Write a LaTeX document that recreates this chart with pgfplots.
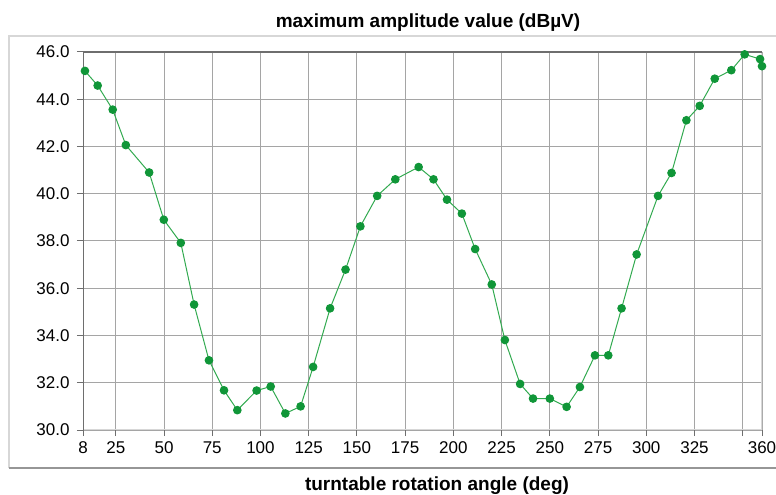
\documentclass[border=0pt]{standalone}
\usepackage{fontspec}
\setmainfont{Liberation Sans}
\usepackage{pgfplots}
\pgfplotsset{compat=1.18}
\definecolor{ptgreen}{RGB}{16,150,56}
\definecolor{lngreen}{RGB}{50,170,80}
\definecolor{gridgray}{RGB}{165,165,165}
\definecolor{axdark}{RGB}{110,110,110}
\definecolor{axlight}{RGB}{215,215,215}
\definecolor{panelgray}{RGB}{150,150,150}

\begin{document}
\begin{tikzpicture}
\begin{axis}[
    name=ax,
    scale only axis,
    width=679bp, height=378bp,
    xmin=8, xmax=360, ymin=30, ymax=46,
    xtick={8,25,50,75,100,125,150,175,200,225,250,275,300,325,350,360},
    xticklabels={8,25,50,75,100,125,150,175,200,225,250,275,300,325,,360},
    ytick={30,32,34,36,38,40,42,44,46},
    /pgf/number format/assume math mode=true,
    grid=major,
    grid style={gridgray, line width=1bp},
    axis line style={draw=none},
    tick align=outside,
    xtick pos=bottom, ytick pos=left,
    major tick length=6bp,
    tick style={axdark, line width=1bp},
    tick label style={font=\fontsize{17bp}{17bp}\selectfont},
    xticklabel style={yshift=-2bp},
    yticklabel style={xshift=-4bp,
        /pgf/number format/.cd, fixed, fixed zerofill, precision=1},
]
\addplot[lngreen, line width=1bp, mark=*, mark size=3.8bp,
    mark options={ptgreen, fill=ptgreen}] coordinates {
    (9,45.2) (15.6,44.58) (23.4,43.56) (30.2,42.06) (42.3,40.9)
    (49.9,38.9) (58.7,37.92) (65.6,35.31) (73.3,32.95) (81.1,31.68)
    (88.0,30.84) (98.0,31.67) (105.3,31.84) (112.9,30.70) (120.8,31.0)
    (127.3,32.67) (136.1,35.15) (144.1,36.79) (151.8,38.62) (160.5,39.91)
    (169.9,40.61) (182.0,41.13) (189.7,40.61) (196.7,39.75) (204.4,39.16)
    (211.3,37.66) (219.9,36.16) (226.7,33.81) (234.6,31.95) (241.3,31.33)
    (250.0,31.33) (258.7,30.98) (265.6,31.82) (273.4,33.16) (280.3,33.16)
    (287.2,35.15) (295.0,37.43) (306.1,39.91) (313.1,40.88) (320.8,43.11)
    (327.7,43.72) (335.5,44.87) (344.1,45.23) (351.0,45.9) (359.0,45.7)
    (360.0,45.4)
};
\draw[axlight, line width=1.2bp] (rel axis cs:1,1) -- (rel axis cs:1,0) -- (rel axis cs:0,0);
\draw[axdark, line width=1.3bp] (rel axis cs:0,0) -- (rel axis cs:0,1) -- (rel axis cs:1,1);
\end{axis}
% outer panel
\draw[axlight, line width=2bp] ([xshift=-74bp,yshift=-38bp]ax.south west)
    -- ([xshift=-74bp,yshift=394bp]ax.south west)
    -- ([xshift=700bp,yshift=394bp]ax.south west);
\draw[panelgray, line width=1.5bp] ([xshift=-74bp,yshift=-38bp]ax.south west)
    -- ([xshift=700bp,yshift=-38bp]ax.south west);
\node[anchor=base, inner sep=0pt] at ([xshift=345bp,yshift=402.7bp]ax.south west)
    {\bfseries\fontsize{19bp}{19bp}\selectfont maximum amplitude value (dBµV)};
\node[anchor=base, inner sep=0pt] at ([xshift=354bp,yshift=-60bp]ax.south west)
    {\bfseries\fontsize{19bp}{19bp}\selectfont turntable rotation angle (deg)};
\pgfresetboundingbox
\path ([xshift=-83bp,yshift=-65bp]ax.south west) rectangle ([xshift=693bp,yshift=430bp]ax.south west);
\end{tikzpicture}
\end{document}
